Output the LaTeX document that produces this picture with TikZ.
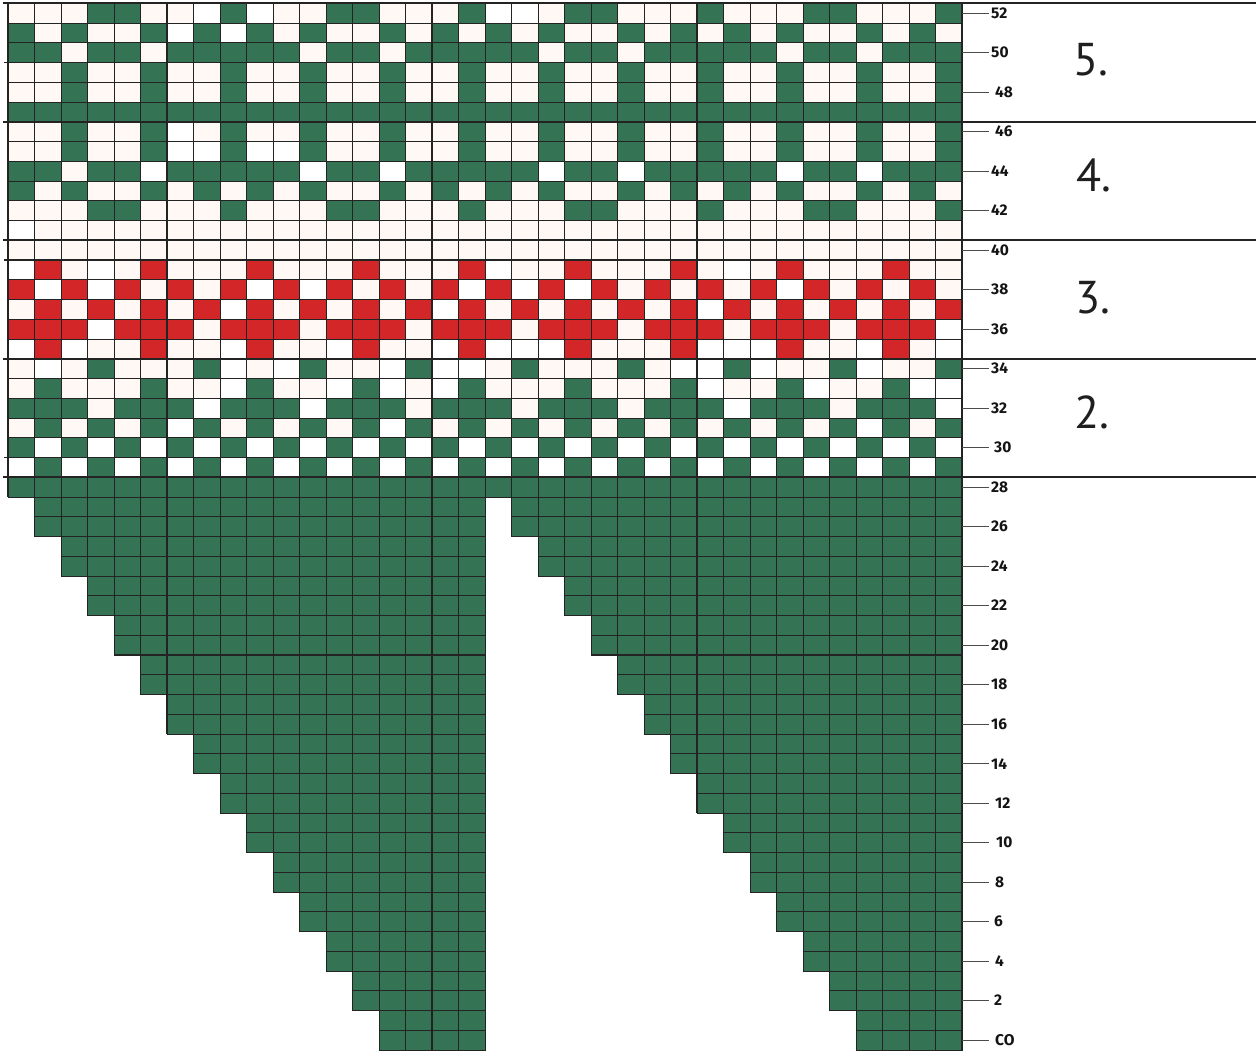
\documentclass[tikz,border=0pt]{standalone}
\usepackage{fontspec}
\newfontfamily\labfont{PT Sans}
\newfontfamily\tickfont{Fira Sans}
\definecolor{kgreen}{HTML}{357355}
\definecolor{kred}{HTML}{D22628}
\definecolor{kcream}{HTML}{FFF8F4}
\definecolor{kline}{HTML}{232323}
\tikzset{
  gridline/.style={draw=kline, line width=0.95pt},
  tenline/.style={draw=kline, line width=1.9pt},
  midline/.style={draw=kline, line width=1.4pt},
  bandline/.style={draw=kline, line width=2.4pt},
  ticksty/.style={draw=black!70, line width=1pt},
  ticklab/.style={anchor=west, inner sep=0pt, font=\tickfont\bfseries\fontsize{15.5}{17}\selectfont, text=black!92},
  bandlab/.style={anchor=base west, inner sep=0pt, font=\labfont\fontsize{46}{46}\selectfont, text=black!88},
}
\def\patA{{3,1}}
\def\patB{{1,3}}
\def\patC{{0,1,0,1}}
\def\patD{{1,1,1,0}}
\def\patE{{0,1,0,0}}
\def\patF{{0,0,0,1}}
\def\patG{{0,2,0,0}}
\def\patH{{2,2,2,0}}
\def\patI{{0,2,0,2}}
\def\patJ{{2,0,2,0}}
\def\patK{{0,0}}
\def\patL{{1,1}}
\def\patM{{0,0,1}}
\def\patN{{0,0,0,1,1,0,0,0,1}}
\def\patO{{1,0,1,0,0,1,0,1,0}}
\def\patP{{1,1,0,1,1,0,1,1,1}}
\begin{document}
\begin{tikzpicture}[x=1pt,y=-1pt]
\useasboundingbox (0,0) rectangle (1256,1054);
\fill[white] (0,0) rectangle (1256,1054);
% ---- pattern bands (rows 29-52)
\foreach \r/\p/\n in {29/2/A,30/2/B,31/4/C,32/4/D,33/4/E,34/4/F,
  35/4/G,36/4/H,37/4/I,38/4/J,39/4/G,40/2/K,
  41/2/K,42/9/N,43/9/O,44/9/P,45/3/M,46/3/M,
  47/2/L,48/3/M,49/3/M,50/9/P,51/9/O,52/9/N}{
  \expandafter\let\expandafter\cur\csname pat\n\endcsname
  \foreach \c in {0,...,35}{
    \pgfmathtruncatemacro\idx{mod(\c,\p)}
    \pgfmathtruncatemacro\v{\cur[\idx]}
    \ifcase\v \def\col{kcream}\or \def\col{kgreen}\or \def\col{kred}\else \def\col{white}\fi
    \fill[\col] ({8+26.5*\c},{1050-19.75*(\r+1)}) rectangle ++(26.5,19.75);
  }
}
% pure white cells
\foreach \c/\r in {7/52,9/52,18/52,19/52,6/51,8/51,6/46,6/45,7/45,9/45,10/45,
  5/44,11/44,14/44,20/44,23/44,29/44,32/44,0/41,
  0/39,3/39,18/39,27/39,1/38,3/38,9/38,11/38,17/38,19/38,21/38,29/38,
  8/37,16/37,26/37,3/36,35/36,
  0/35,2/35,8/35,12/35,16/35,18/35,19/35,20/35,26/35,27/35,28/35,32/35,35/35,
  1/34,8/34,10/34,14/34,16/34,17/34,25/34,26/34,28/34,32/34,
  8/33,12/33,14/33,16/33,26/33,30/33,34/33,35/33,
  7/32,11/32,27/32,35/32,6/31,14/31,32/31}{
  \fill[white] ({8+26.5*\c},{1050-19.75*(\r+1)}) rectangle ++(26.5,19.75);
}
% band grid
\foreach \r in {29,...,53}{
  \draw[gridline] (8,{1050-19.75*\r}) -- (962,{1050-19.75*\r});
}
\foreach \c in {0,...,36}{
  \draw[gridline] ({8+26.5*\c},3.25) -- ({8+26.5*\c},477.25);
}
% ---- green triangles (rows 0-28)
\fill[kgreen] (8,{1050-19.75*29}) rectangle (962,{1050-19.75*28});
\foreach \k in {0,...,13}{
  \fill[kgreen] ({8+26.5*(14-\k)},{1050-19.75*(2*\k+2)}) rectangle (485,{1050-19.75*(2*\k)});
  \fill[kgreen] ({8+26.5*(32-\k)},{1050-19.75*(2*\k+2)}) rectangle (962,{1050-19.75*(2*\k)});
}
\foreach \c in {0,...,35}{
  \draw[gridline] ({8+26.5*\c},{1050-19.75*29}) rectangle ++(26.5,19.75);
}
\foreach \r in {0,...,27}{
  \pgfmathtruncatemacro\k{floor(\r/2)}
  \pgfmathtruncatemacro\cl{14-\k}
  \pgfmathtruncatemacro\cr{32-\k}
  \foreach \c in {\cl,...,17}{
    \draw[gridline] ({8+26.5*\c},{1050-19.75*(\r+1)}) rectangle ++(26.5,19.75);
  }
  \foreach \c in {\cr,...,35}{
    \draw[gridline] ({8+26.5*\c},{1050-19.75*(\r+1)}) rectangle ++(26.5,19.75);
  }
}
% ---- ten-lines
\draw[tenline] ({8+26.5*6},3.25) -- ({8+26.5*6},{1050-19.75*16});
\draw[tenline] ({8+26.5*16},3.25) -- ({8+26.5*16},1050);
\draw[tenline] ({8+26.5*26},3.25) -- ({8+26.5*26},{1050-19.75*12});
\draw[tenline] ({8+26.5*4},{1050-19.75*20}) -- (485,{1050-19.75*20});
\draw[tenline] ({8+26.5*22},{1050-19.75*20}) -- (962,{1050-19.75*20});
\draw[tenline] ({8+26.5*9},{1050-19.75*10}) -- (485,{1050-19.75*10});
\draw[tenline] ({8+26.5*27},{1050-19.75*10}) -- (962,{1050-19.75*10});
\foreach \r in {30,40,50}{
  \draw[midline] (4,{1050-19.75*\r}) -- (962,{1050-19.75*\r});
}
\draw[midline] (8,3.25) -- (8,{1050-19.75*28});
\draw[tenline] (962,3.25) -- (962,1051);
% ---- band separators
\foreach \r in {29,35,41,47,53}{
  \draw[bandline] (3,{1050-19.75*\r}) -- (1256,{1050-19.75*\r});
}
% ---- row ticks and numbers
\foreach \r/\lab/\lx in {0/CO/995,2/2/994,4/4/995,6/6/994,8/8/995,10/10/996,12/12/995,
  14/14/991,16/16/991,18/18/991,20/20/991,22/22/991,24/24/991,26/26/991,28/28/991,
  30/30/994,32/32/991,34/34/991,36/36/991,38/38/991,40/40/991,
  42/42/991,44/44/991,46/46/995,48/48/995,50/50/991,52/52/991}{
  \draw[ticksty] (962,{1050-19.75*(\r+0.5)}) -- (989,{1050-19.75*(\r+0.5)});
  \node[ticklab] (t\r) at (\lx,{1050-19.75*(\r+0.5)}) {\lab};
}
% ---- band numbers
\node[bandlab] (b5) at (1073,76) {5.};
\node[bandlab] (b4) at (1076,192) {4.};
\node[bandlab] (b3) at (1075,313) {3.};
\node[bandlab] (b2) at (1074,428) {2.};
\end{tikzpicture}
\end{document}
